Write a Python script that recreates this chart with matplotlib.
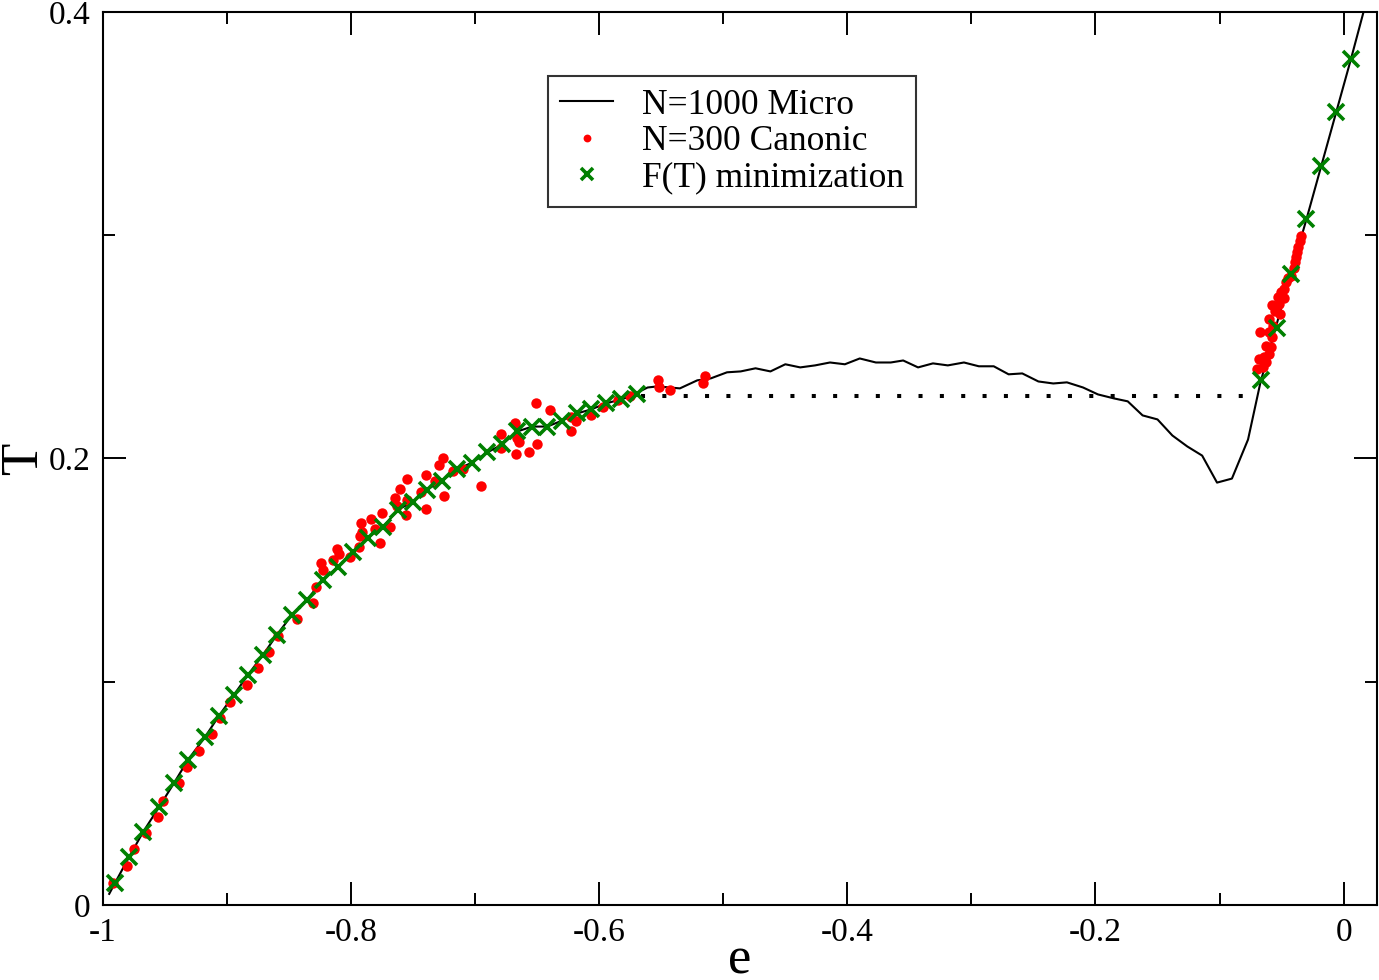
import numpy as np
import matplotlib.pyplot as plt
from matplotlib.ticker import MultipleLocator

plt.rcParams['font.family'] = ['Liberation Serif', 'DejaVu Serif']

# N=1000 microcanonical curve T(e)
micro_e = [-0.995, -0.9903, -0.979, -0.9677, -0.9548, -0.9427, -0.9315, -0.9177, -0.9065,
           -0.8944, -0.8831, -0.871, -0.8597, -0.8476, -0.8355, -0.8226, -0.8105, -0.7984,
           -0.7863, -0.7742, -0.7621, -0.75, -0.7387, -0.7266, -0.7145, -0.7024, -0.6903,
           -0.6782, -0.6661, -0.654, -0.6419, -0.6298, -0.6177, -0.6065, -0.5944, -0.5823,
           -0.577, -0.561, -0.553, -0.535, -0.521, -0.510, -0.497, -0.486, -0.474, -0.462,
           -0.450, -0.438, -0.426, -0.414, -0.402, -0.390, -0.377, -0.365, -0.355, -0.343,
           -0.331, -0.319, -0.306, -0.294, -0.282, -0.270, -0.259, -0.246, -0.234, -0.223,
           -0.210, -0.198, -0.185, -0.174, -0.162, -0.150, -0.138, -0.126, -0.114, -0.102,
           -0.090, -0.077, -0.067, -0.055, -0.043, -0.030, -0.018, -0.006, 0.006, 0.018]
micro_T = [0.005, 0.0099, 0.0215, 0.0327, 0.0439, 0.0547, 0.0650, 0.0753, 0.0848,
           0.0942, 0.1031, 0.1121, 0.1211, 0.1300, 0.1368, 0.1457, 0.1516, 0.1583,
           0.1646, 0.1695, 0.1771, 0.1807, 0.1861, 0.1901, 0.1951, 0.1982, 0.2027,
           0.2063, 0.2121, 0.2143, 0.2143, 0.2170, 0.2202, 0.2220, 0.2247, 0.2265,
           0.2274, 0.2318, 0.2323, 0.2314, 0.2350, 0.2359, 0.2386, 0.2390, 0.2404, 0.2390,
           0.2422, 0.2408, 0.2417, 0.2430, 0.2422, 0.2448, 0.2430, 0.2430, 0.2439, 0.2408,
           0.2426, 0.2417, 0.2430, 0.2413, 0.2413, 0.2377, 0.2381, 0.2345, 0.2336, 0.2341,
           0.2318, 0.2287, 0.2269, 0.2256, 0.2193, 0.2175, 0.2103, 0.2054, 0.2013, 0.1892,
           0.1910, 0.2085, 0.2341, 0.258, 0.282, 0.307, 0.331, 0.355, 0.379, 0.404]

# N=300 canonical simulation
canon_e = [-0.992, -0.981, -0.975, -0.965, -0.956, -0.952, -0.939, -0.932, -0.923, -0.912,
           -0.906, -0.898, -0.884, -0.875, -0.866, -0.859, -0.844, -0.831, -0.828, -0.824,
           -0.823, -0.815, -0.811, -0.810, -0.801, -0.794, -0.793, -0.791, -0.792, -0.784,
           -0.781, -0.777, -0.775, -0.769, -0.765, -0.763, -0.761, -0.755, -0.756, -0.755,
           -0.744, -0.740, -0.740, -0.732, -0.729, -0.726, -0.725, -0.718, -0.710, -0.695,
           -0.679, -0.679, -0.668, -0.666, -0.665, -0.667, -0.657, -0.650, -0.651, -0.640,
           -0.623, -0.623, -0.619, -0.607, -0.597, -0.585, -0.575, -0.553, -0.552, -0.543,
           -0.515, -0.516,
           -0.0347, -0.0355, -0.0371, -0.0379, -0.0387, -0.0395, -0.0403, -0.0427, -0.0452,
           -0.0468, -0.0484, -0.0508, -0.0532, -0.0484, -0.0524, -0.0573, -0.0516, -0.0556,
           -0.0605, -0.0565, -0.0605, -0.0677, -0.0573, -0.0629, -0.0589, -0.0605, -0.0645,
           -0.0685, -0.0629, -0.0694, -0.0653]
canon_T = [0.0099, 0.0175, 0.0251, 0.0323, 0.0395, 0.0466, 0.0547, 0.0619, 0.0691, 0.0767,
           0.0839, 0.0910, 0.0987, 0.1063, 0.1135, 0.1206, 0.1283, 0.1354, 0.1426, 0.1534,
           0.1502, 0.1547, 0.1596, 0.1574, 0.1561, 0.1605, 0.1655, 0.1673, 0.1713, 0.1731,
           0.1686, 0.1623, 0.1758, 0.1695, 0.1821, 0.1789, 0.1865, 0.1910, 0.1749, 0.1816,
           0.1852, 0.1776, 0.1924, 0.1897, 0.1973, 0.2000, 0.1834, 0.1942, 0.1951, 0.1879,
           0.2108, 0.2049, 0.2157, 0.2094, 0.2076, 0.2018, 0.2031, 0.2063, 0.2247, 0.2215,
           0.2121, 0.2184, 0.2166, 0.2193, 0.2229, 0.2260, 0.2278, 0.2350, 0.2318, 0.2305,
           0.2368, 0.2336,
           0.2996, 0.2973, 0.2946, 0.2924, 0.2901, 0.2879, 0.2852, 0.2816, 0.2807,
           0.2789, 0.2758, 0.2744, 0.2722, 0.2717, 0.2691, 0.2686, 0.2646, 0.2659,
           0.2623, 0.2592, 0.2565, 0.2565, 0.2543, 0.2502, 0.2498, 0.2466, 0.2453,
           0.2444, 0.2430, 0.2399, 0.2408]

# F(T) minimization
fmin_e = [-0.9903, -0.979, -0.9677, -0.9548, -0.9427, -0.9315, -0.9177, -0.9065, -0.8944,
          -0.8831, -0.871, -0.8597, -0.8476, -0.8355, -0.8226, -0.8105, -0.7984, -0.7863,
          -0.7742, -0.7621, -0.75, -0.7387, -0.7266, -0.7145, -0.7024, -0.6903, -0.6782,
          -0.6661, -0.654, -0.6419, -0.6298, -0.6177, -0.6065, -0.5944, -0.5823, -0.5694,
          -0.0669, -0.054, -0.0427, -0.0306, -0.0185, -0.0065, 0.0056]
fmin_T = [0.0099, 0.0215, 0.0327, 0.0439, 0.0547, 0.0650, 0.0753, 0.0848, 0.0942,
          0.1031, 0.1121, 0.1211, 0.1300, 0.1368, 0.1457, 0.1516, 0.1583, 0.1646,
          0.1695, 0.1771, 0.1807, 0.1861, 0.1901, 0.1951, 0.1982, 0.2027, 0.2063,
          0.2121, 0.2143, 0.2143, 0.2170, 0.2202, 0.2220, 0.2247, 0.2265, 0.2287,
          0.2350, 0.2583, 0.2825, 0.3072, 0.3309, 0.3552, 0.3789]

# Maxwell construction (coexistence temperature)
maxwell_e = [-0.566, -0.068]
maxwell_T = [0.2278, 0.2278]

fig = plt.figure(figsize=(13.79, 9.8), dpi=100)
ax = fig.add_axes([0.0747, 0.0765, 0.9239, 0.9113])

ax.plot(micro_e, micro_T, color='black', lw=1.5, label='N=1000 Micro', zorder=2)
ax.plot(maxwell_e, maxwell_T, color='black', lw=2.9, linestyle=(0, (1, 4.3)), zorder=2)
ax.plot(canon_e, canon_T, 'o', color='#ff0000', ms=7.5, mew=0, label='N=300 Canonic', zorder=3)
ax.plot(fmin_e, fmin_T, 'x', color='#008000', ms=11, mew=2.6, label='F(T) minimization', zorder=4)

ax.set_xlim(-1, 0.027)
ax.set_ylim(0, 0.4)
ax.xaxis.set_minor_locator(MultipleLocator(0.1))
ax.yaxis.set_minor_locator(MultipleLocator(0.1))
ax.set_xticks([-1, -0.8, -0.6, -0.4, -0.2, 0])
ax.set_xticklabels(['-1', '-0.8', '-0.6', '-0.4', '-0.2', '0'])
ax.set_yticks([0, 0.2, 0.4])
ax.set_yticklabels(['0', '0.2', '0.4'])
ax.tick_params(which='both', direction='in', top=True, right=True, width=1.4, labelsize=24)
ax.tick_params(which='major', length=16.5, pad=9)
ax.tick_params(which='minor', length=8.5)
for s in ax.spines.values():
    s.set_linewidth(1.5)

ax.set_xlabel('e', fontsize=38, labelpad=-8)
ax.set_ylabel('T', fontsize=38)
ax.yaxis.set_label_coords(-0.043, 0.5)

leg = ax.legend(loc='upper left', bbox_to_anchor=(0.349, 0.928), borderaxespad=0,
                fontsize=25.5, frameon=True, fancybox=False, edgecolor='black',
                handlelength=1.5, handletextpad=0.8, labelspacing=0.1,
                borderpad=0.35, markerscale=0.75)
leg.get_frame().set_linewidth(1.5)

fig.savefig('out.png', dpi=100)
